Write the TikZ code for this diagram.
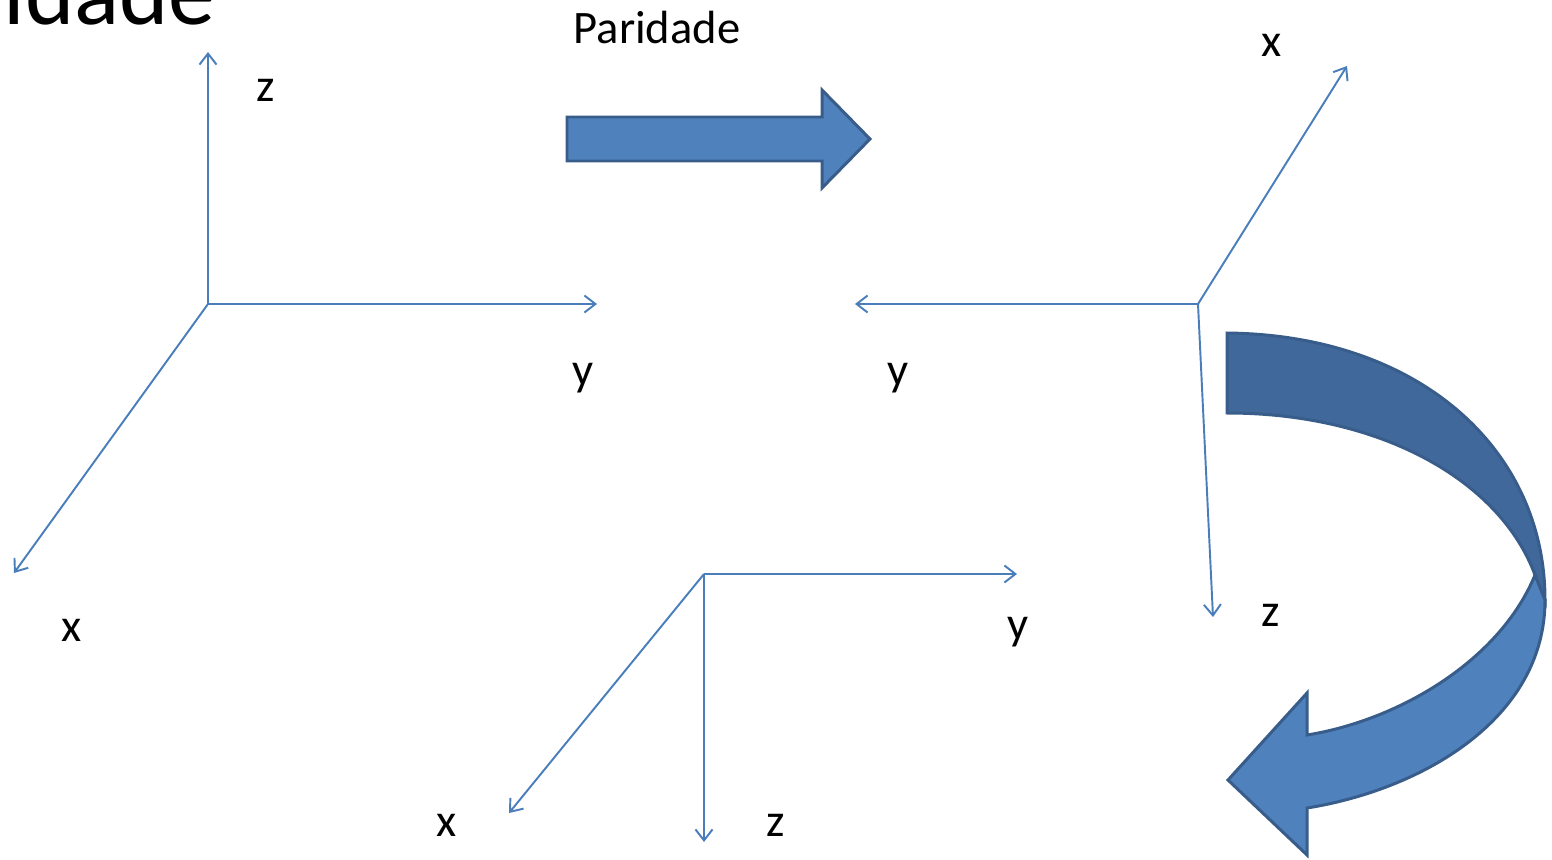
\documentclass[tikz,border=0pt]{standalone}
\usepackage{fontspec}
\setmainfont{Carlito}
\usetikzlibrary{arrows.meta}
\definecolor{axisblue}{HTML}{4A7EBB}
\definecolor{fillblue}{HTML}{4F81BD}
\definecolor{darkfill}{HTML}{41689B}
\definecolor{edgeblue}{HTML}{385D8A}
\begin{document}
\begin{tikzpicture}[x=0.02cm, y=-0.02cm,
  axis/.style={axisblue, line width=1.1pt, -{Straight Barb[length=2.2mm,width=3.4mm]}},
  lbl/.style={font=\fontsize{26.5}{30}\selectfont, inner sep=0pt},
  blockarrow/.style={draw=edgeblue, line width=1.7pt, line join=miter}]
\useasboundingbox (0,0) rectangle (1552,859);
% title, cut by the page
\node[font=\fontsize{53.5}{60}\selectfont, inner sep=0pt, anchor=base east] (title) at (216,24) {Paridade};
% first frame
\coordinate (o1) at (208,304);
\coordinate (z1) at (208,52);
\coordinate (y1) at (597,304);
\coordinate (x1) at (14,573);
\draw[axis] (o1) -- (z1);
\draw[axis] (o1) -- (y1);
\draw[axis] (o1) -- (x1);
\node[lbl] (lz1) at (266,90) {z};
\node[lbl] (ly1) at (583,378) {y};
\node[lbl] (lx1) at (72,630) {x};
% parity arrow
\node[lbl] (par) at (657,28) {Paridade};
\draw[blockarrow, fill=fillblue] (567,117) -- (822,117) -- (822,90) -- (870,139)
  -- (822,188) -- (822,161) -- (567,161) -- cycle;
% second frame
\coordinate (o2) at (1198,304);
\coordinate (x2) at (1347,66);
\coordinate (y2) at (855,304);
\coordinate (z2) at (1213,617);
\draw[axis] (o2) -- (x2);
\draw[axis] (o2) -- (y2);
\draw[axis] (o2) -- (z2);
\node[lbl] (lx2) at (1272,45) {x};
\node[lbl] (ly2) at (898,378) {y};
\node[lbl] (lz2) at (1271,615) {z};
% rotation arrow
\coordinate (twist) at (1535,575);
\draw[blockarrow, fill=darkfill] (1227,333) .. controls (1420,335) and (1545,450) .. (1545,600)
  -- (twist) .. controls (1500,480) and (1380,413) .. (1227,413) -- cycle;
\draw[blockarrow, fill=fillblue] (twist) .. controls (1500,660) and (1400,720) .. (1307,735)
  -- (1307,693) -- (1228,780) -- (1307,855) -- (1307,808)
  .. controls (1420,790) and (1545,720) .. (1545,600) -- cycle;
% third frame
\coordinate (o3) at (704,574);
\coordinate (y3) at (1017,574);
\coordinate (z3) at (704,842);
\coordinate (x3) at (509,813);
\draw[axis] (o3) -- (y3);
\draw[axis] (o3) -- (z3);
\draw[axis] (o3) -- (x3);
\node[lbl] (ly3) at (1018,632) {y};
\node[lbl] (lz3) at (776,825) {z};
\node[lbl] (lx3) at (447,825) {x};
\end{tikzpicture}
\end{document}
